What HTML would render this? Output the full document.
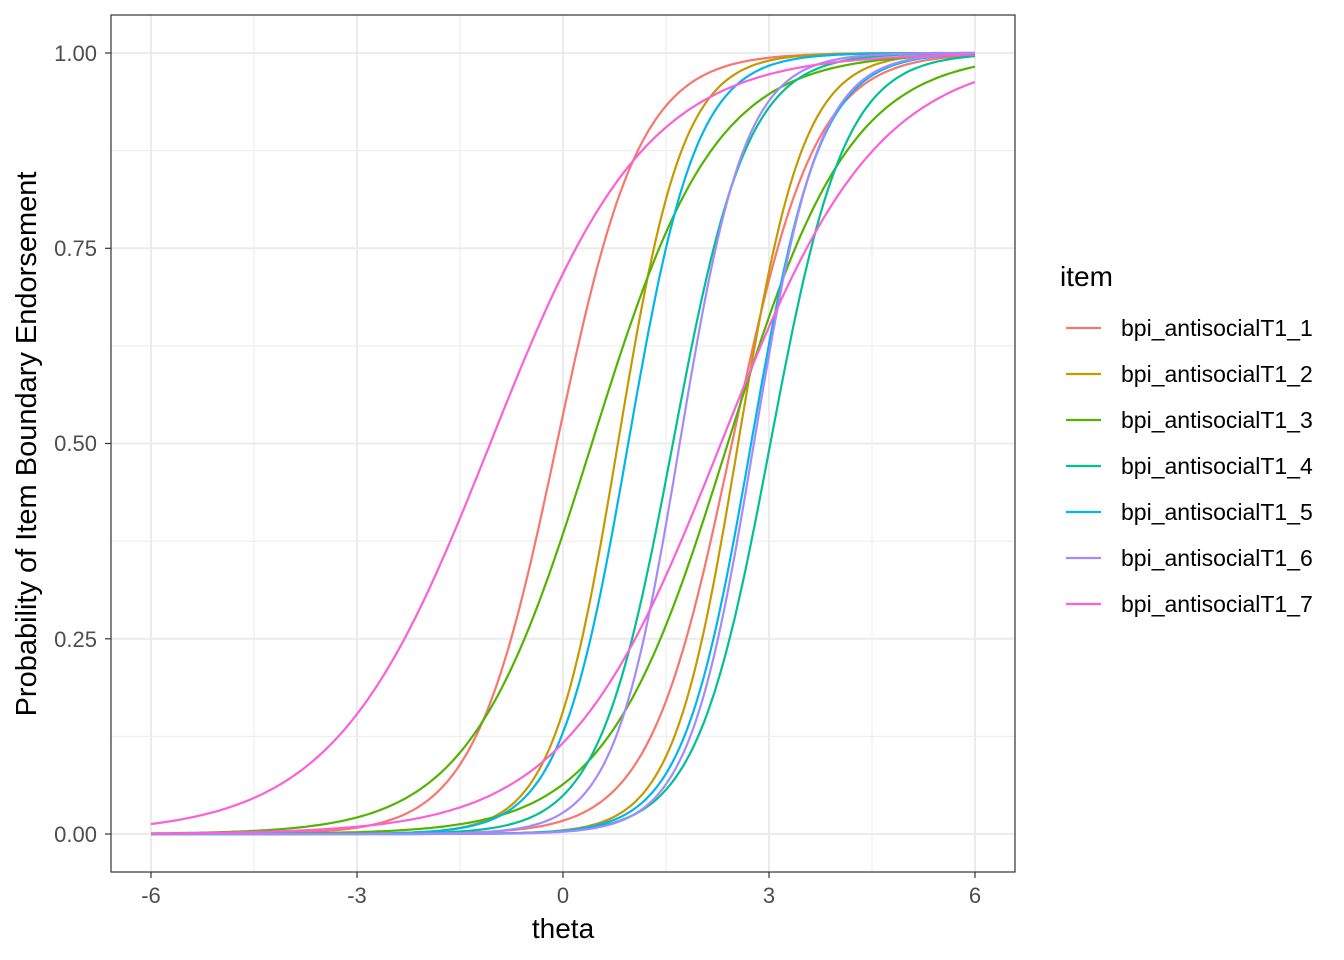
<!DOCTYPE html>
<html><head><meta charset="utf-8"><style>
html,body{margin:0;padding:0;background:#fff;}
svg{display:block;font-family:"Liberation Sans",sans-serif;}
</style></head><body>
<svg id="s" width="1344" height="960" xmlns="http://www.w3.org/2000/svg">
<rect x="0" y="0" width="1344" height="960" fill="#fff"/>
<g stroke="#ebebeb" stroke-width="1">
<line x1="111" x2="1015" y1="736.4" y2="736.4"/><line x1="111" x2="1015" y1="541.1" y2="541.1"/><line x1="111" x2="1015" y1="345.9" y2="345.9"/><line x1="111" x2="1015" y1="150.6" y2="150.6"/>
<line y1="15" y2="872" x1="254" x2="254"/><line y1="15" y2="872" x1="460" x2="460"/><line y1="15" y2="872" x1="666" x2="666"/><line y1="15" y2="872" x1="872" x2="872"/>
</g>
<g stroke="#ebebeb" stroke-width="2">
<line x1="111" x2="1015" y1="834" y2="834"/><line x1="111" x2="1015" y1="638.8" y2="638.8"/><line x1="111" x2="1015" y1="443.5" y2="443.5"/><line x1="111" x2="1015" y1="248.3" y2="248.3"/><line x1="111" x2="1015" y1="53" y2="53"/>
<line y1="15" y2="872" x1="151" x2="151"/><line y1="15" y2="872" x1="357" x2="357"/><line y1="15" y2="872" x1="563" x2="563"/><line y1="15" y2="872" x1="769" x2="769"/><line y1="15" y2="872" x1="975" x2="975"/>
</g>
<g id="curves" fill="none" stroke-width="2.2"></g>
<rect x="111" y="15" width="904" height="857" fill="none" stroke="#333" stroke-width="1.2"/>
<g stroke="#333" stroke-width="1.2">
<line x1="105" x2="111" y1="834" y2="834"/><line x1="105" x2="111" y1="638.8" y2="638.8"/><line x1="105" x2="111" y1="443.5" y2="443.5"/><line x1="105" x2="111" y1="248.3" y2="248.3"/><line x1="105" x2="111" y1="53" y2="53"/>
<line y1="872" y2="878" x1="151" x2="151"/><line y1="872" y2="878" x1="357" x2="357"/><line y1="872" y2="878" x1="563" x2="563"/><line y1="872" y2="878" x1="769" x2="769"/><line y1="872" y2="878" x1="975" x2="975"/>
</g>
<g fill="#4d4d4d" font-size="22" text-anchor="end">
<text x="97" y="842">0.00</text><text x="97" y="647">0.25</text><text x="97" y="451">0.50</text><text x="97" y="256">0.75</text><text x="97" y="61">1.00</text>
</g>
<g fill="#4d4d4d" font-size="22" text-anchor="middle">
<text x="151" y="903">-6</text><text x="357" y="903">-3</text><text x="563" y="903">0</text><text x="769" y="903">3</text><text x="975" y="903">6</text>
</g>
<text x="563" y="938" font-size="28" text-anchor="middle" fill="#000">theta</text>
<text transform="translate(36,444) rotate(-90)" font-size="29" text-anchor="middle" fill="#000">Probability of Item Boundary Endorsement</text>
<text x="1060" y="286" font-size="28" fill="#000">item</text>
<g id="legend" font-size="23" fill="#000"></g>
</svg>
<script>
var cols=["#F8766D","#C49A00","#53B400","#00C094","#00B6EB","#A58AFF","#FB61D7"];
var pars=[[1.65,-0.09,2.46],[2.1,0.8,2.55],[1.12,0.42,2.4],[1.85,1.6,3.02],[2.0,0.95,2.74],[2.1,1.7,2.78],[0.88,-1.06,2.3]];
var g=document.getElementById("curves"),lg=document.getElementById("legend"),ns="http://www.w3.org/2000/svg";
function X(t){return 563+t*68.667;}function Y(p){return 834-p*781;}
pars.forEach(function(p,i){
 var a=p[0];
 [p[1],p[2]].forEach(function(b,k){
  var d="";
  for(var t=-6;t<=6.0001;t+=0.05){var v=1/(1+Math.exp(-a*(t-b)));d+=(d?"L":"M")+X(t).toFixed(1)+","+Y(v).toFixed(1);}
  var e=document.createElementNS(ns,"path");e.setAttribute("d",d);e.setAttribute("stroke",cols[i]);g.appendChild(e);
 });
 var y=328+i*46;
 var l=document.createElementNS(ns,"line");l.setAttribute("x1",1066);l.setAttribute("x2",1101);l.setAttribute("y1",y);l.setAttribute("y2",y);l.setAttribute("stroke",cols[i]);l.setAttribute("stroke-width",2.2);lg.appendChild(l);
 var tx=document.createElementNS(ns,"text");tx.setAttribute("x",1121);tx.setAttribute("y",y+8);tx.textContent="bpi_antisocialT1_"+(i+1);lg.appendChild(tx);
});
</script>
</body></html>
